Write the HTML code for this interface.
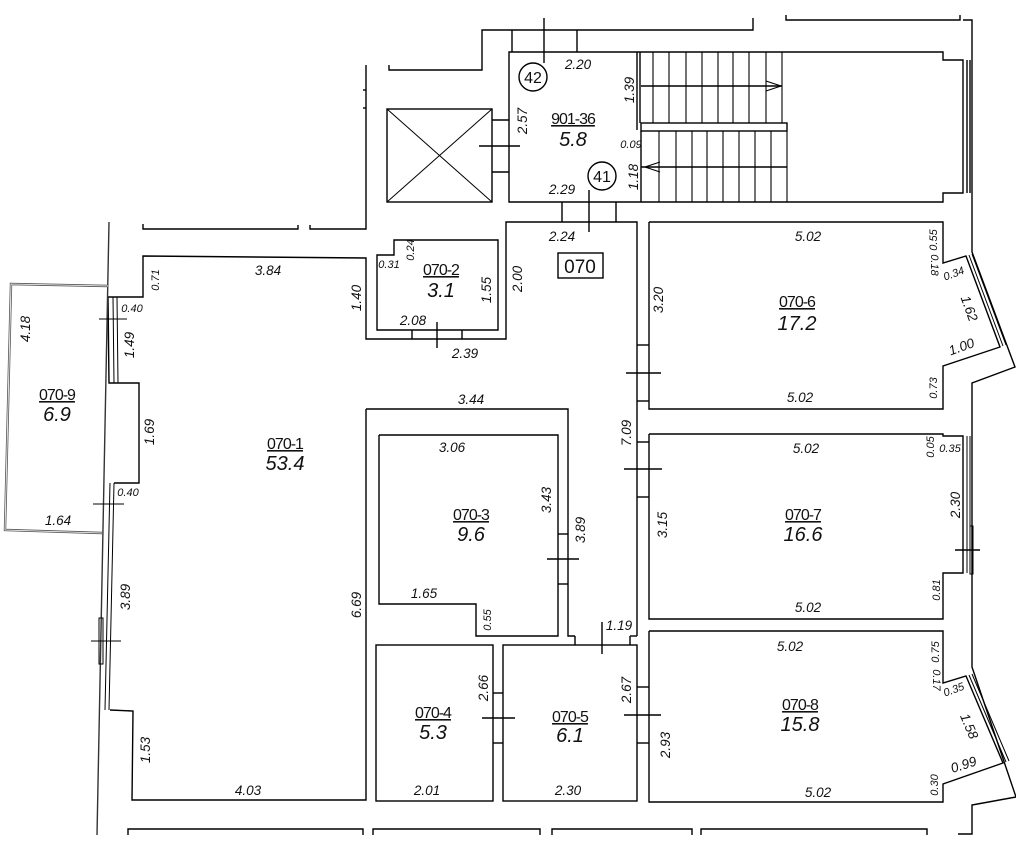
<!DOCTYPE html>
<html><head><meta charset="utf-8"><style>
html,body{margin:0;padding:0;background:#fff;}
svg{display:block}
text{font-family:"Liberation Sans",sans-serif;fill:#111}
.d{font-size:13.5px;font-style:italic}
.s{font-size:11px;font-style:italic}
.c{font-size:16px;letter-spacing:-1px}
.a{font-size:20px;font-style:italic}
</style></head><body>
<svg width="1016" height="843" viewBox="0 0 1016 843" xmlns="http://www.w3.org/2000/svg">
<g fill="none" stroke="#000" stroke-width="1.4">
<polyline points="389,65 389,70 482,70 482,30 753,30 753,18"/>
<line x1="512" y1="30" x2="512" y2="52"/><line x1="577" y1="30" x2="577" y2="52"/>
<line x1="544" y1="18" x2="544" y2="63"/>
<polyline points="786,15 786,20 960,20 960,15"/>
<polyline points="963,20 972,20 972,252 1015,367 972,383 972,667 1016,797 972,805 972,834 958,834"/>
<polyline points="637,52 509,52 509,202 943,202 943,193 963,193 963,60 943,60 943,52 637,52"/>
<line x1="967" y1="60" x2="967" y2="193"/><line x1="970" y1="60" x2="970" y2="193"/>
<line x1="637" y1="52" x2="637" y2="130"/><line x1="640" y1="52" x2="640" y2="123"/>
<rect x="641" y="123" width="146" height="8"/>
<line x1="641" y1="131" x2="641" y2="202"/>
<line x1="641" y1="86" x2="782" y2="86"/><line x1="641" y1="167" x2="787" y2="167"/>
<g stroke-width="1.1">
<line x1="653" y1="52" x2="653" y2="123"/><line x1="669" y1="52" x2="669" y2="123"/><line x1="686" y1="52" x2="686" y2="123"/><line x1="702" y1="52" x2="702" y2="123"/><line x1="718" y1="52" x2="718" y2="123"/><line x1="733" y1="52" x2="733" y2="123"/><line x1="749" y1="52" x2="749" y2="123"/><line x1="766" y1="52" x2="766" y2="123"/><line x1="782" y1="52" x2="782" y2="123"/>
<line x1="659" y1="131" x2="659" y2="202"/><line x1="676" y1="131" x2="676" y2="202"/><line x1="692" y1="131" x2="692" y2="202"/><line x1="707" y1="131" x2="707" y2="202"/><line x1="723" y1="131" x2="723" y2="202"/><line x1="739" y1="131" x2="739" y2="202"/><line x1="755" y1="131" x2="755" y2="202"/><line x1="771" y1="131" x2="771" y2="202"/><line x1="787" y1="131" x2="787" y2="202"/>
<polyline points="766,81 781,86 766,91"/><polyline points="660,162 645,167 660,172"/>
</g>
<circle cx="533" cy="77" r="14"/><circle cx="602" cy="176" r="14"/>
<line x1="589" y1="190" x2="589" y2="232"/>
<line x1="562" y1="202" x2="562" y2="222"/><line x1="616" y1="202" x2="616" y2="222"/>
<rect x="387" y="109" width="105" height="93"/>
<line x1="387" y1="109" x2="492" y2="202" stroke-width="1"/><line x1="492" y1="109" x2="387" y2="202" stroke-width="1"/>
<line x1="492" y1="120" x2="509" y2="120"/><line x1="492" y1="172" x2="509" y2="172"/>
<line x1="479" y1="146" x2="520" y2="146"/>
<polyline points="366,65 366,229 310,229 310,225"/>
<polyline points="143,224 143,229 298,229 298,225"/>
<line x1="366" y1="90" x2="363" y2="90"/><line x1="366" y1="108" x2="363" y2="108"/>
<polyline points="108,297 143,297 143,256 366,258 366,339 506,339 506,222 637,222 637,636"/>
<polyline points="366,409 568,409 568,636 575,636"/>
<line x1="630" y1="636" x2="637" y2="636"/>
<line x1="575" y1="636" x2="575" y2="645"/><line x1="630" y1="636" x2="630" y2="645"/>
<line x1="602" y1="622" x2="602" y2="654"/>
<polyline points="366,409 366,800 132,800 133,711 110,710"/>
<polyline points="108,297 109,383 139,383 139,483 114,483"/>
<polyline points="109,222 97,835" stroke="#333"/>
<line x1="113" y1="297" x2="114" y2="383" stroke-width="1"/><line x1="117" y1="297" x2="118" y2="383" stroke-width="1"/>
<line x1="110" y1="483" x2="105" y2="710" stroke-width="1"/><line x1="114" y1="483" x2="109" y2="710" stroke-width="1"/>
<rect x="99" y="618" width="4" height="46" stroke-width="1"/>
<line x1="99" y1="319" x2="127" y2="319" stroke-width="1"/><line x1="93" y1="504" x2="124" y2="504" stroke-width="1"/><line x1="91" y1="641" x2="121" y2="641" stroke-width="1"/>
<polyline points="108,286 11,284 5,530 102,533" stroke="#555" stroke-width="2.4"/>
<polyline points="108,286 11,284 5,530 102,533" stroke="#fff" stroke-width="0.8"/>
<polygon points="377,255 394,255 394,240 498,240 498,330 377,330"/>
<line x1="412" y1="330" x2="412" y2="339"/><line x1="462" y1="330" x2="462" y2="339"/>
<line x1="437" y1="322" x2="437" y2="348"/>
<rect x="558" y="253" width="45" height="25"/>
<polyline points="379,435 558,435 558,636 476,636 476,604 379,604 379,435"/>
<line x1="558" y1="534" x2="568" y2="534"/><line x1="558" y1="584" x2="568" y2="584"/>
<line x1="547" y1="559" x2="579" y2="559"/>
<rect x="376" y="645" width="117" height="156"/>
<rect x="503" y="645" width="134" height="156"/>
<line x1="493" y1="693" x2="503" y2="693"/><line x1="493" y1="743" x2="503" y2="743"/>
<line x1="482" y1="718" x2="515" y2="718"/>
<polyline points="649,222 943,222 943,263 966,256 1000,347 943,366 943,409 649,409 649,222"/>
<line x1="969" y1="255" x2="1003" y2="346" stroke-width="1"/><line x1="972" y1="254" x2="1006" y2="345" stroke-width="1"/>
<line x1="637" y1="345" x2="649" y2="345"/><line x1="637" y1="401" x2="649" y2="401"/>
<line x1="626" y1="373" x2="661" y2="373"/>
<polyline points="649,434 943,434 943,436 963,436 963,573 943,573 943,619 649,619 649,434"/>
<line x1="967" y1="436" x2="967" y2="573" stroke-width="1"/><line x1="970" y1="436" x2="970" y2="573" stroke-width="1"/>
<rect x="970" y="526" width="3" height="48" stroke-width="1"/>
<line x1="955" y1="550" x2="980" y2="550"/>
<line x1="637" y1="442" x2="649" y2="442"/><line x1="637" y1="497" x2="649" y2="497"/>
<line x1="624" y1="469" x2="662" y2="469"/>
<polyline points="649,631 943,631 943,683 966,676 1003,763 943,784 943,802 649,802 649,631"/>
<line x1="969" y1="675" x2="1006" y2="762" stroke-width="1"/><line x1="972" y1="674" x2="1009" y2="761" stroke-width="1"/>
<line x1="637" y1="687" x2="649" y2="687"/><line x1="637" y1="743" x2="649" y2="743"/>
<line x1="624" y1="715" x2="661" y2="715"/>
<polyline points="128,835 128,829 363,829 363,835"/>
<polyline points="373,835 373,829 540,829 540,835"/>
<polyline points="552,835 552,829 692,829 692,835"/>
<polyline points="701,835 701,829 927,829 927,835"/>
</g>
<g>
<text class="d" x="578" y="69" text-anchor="middle">2.20</text>
<text x="533" y="83" font-size="16" text-anchor="middle">42</text>
<text x="602" y="182" font-size="16" text-anchor="middle">41</text>
<text class="d" transform="translate(527,121) rotate(-90)" text-anchor="middle">2.57</text>
<text class="c" x="573" y="124" text-anchor="middle" text-decoration="underline">901-36</text>
<text class="a" x="573" y="146" text-anchor="middle">5.8</text>
<text class="d" transform="translate(634,90) rotate(-90)" text-anchor="middle">1.39</text>
<text class="s" x="631" y="148" text-anchor="middle">0.09</text>
<text class="d" transform="translate(638,177) rotate(-90)" text-anchor="middle">1.18</text>
<text class="d" x="562" y="194" text-anchor="middle">2.29</text>
<text class="d" x="562" y="241" text-anchor="middle">2.24</text>
<text x="580" y="273" font-size="19" text-anchor="middle">070</text>
<text class="d" transform="translate(522,279) rotate(-90)" text-anchor="middle">2.00</text>

<text class="d" x="808" y="241" text-anchor="middle">5.02</text>
<text class="s" transform="translate(937,240) rotate(-90)" text-anchor="middle">0.55</text>
<text class="s" transform="translate(931,265) rotate(90)" text-anchor="middle">0.18</text>
<text class="s" transform="translate(955,277) rotate(-20)" text-anchor="middle">0.34</text>
<text class="d" transform="translate(965,310) rotate(70)" text-anchor="middle">1.62</text>
<text class="d" transform="translate(963,351) rotate(-20)" text-anchor="middle">1.00</text>
<text class="s" transform="translate(937,388) rotate(-90)" text-anchor="middle">0.73</text>
<text class="d" x="800" y="402" text-anchor="middle">5.02</text>
<text class="c" x="797" y="307" text-anchor="middle" text-decoration="underline">070-6</text>
<text class="a" x="797" y="330" text-anchor="middle">17.2</text>
<text class="d" transform="translate(663,300) rotate(-90)" text-anchor="middle">3.20</text>

<text class="d" x="268" y="275" text-anchor="middle">3.84</text>
<text class="s" transform="translate(159,280) rotate(-90)" text-anchor="middle">0.71</text>
<text class="d" transform="translate(361,298) rotate(-90)" text-anchor="middle">1.40</text>
<text class="s" x="389" y="268" text-anchor="middle">0.31</text>
<text class="s" transform="translate(414,250) rotate(-90)" text-anchor="middle">0.24</text>
<text class="c" x="441" y="275" text-anchor="middle" text-decoration="underline">070-2</text>
<text class="a" x="441" y="297" text-anchor="middle">3.1</text>
<text class="d" transform="translate(491,290) rotate(-90)" text-anchor="middle">1.55</text>
<text class="d" x="413" y="325" text-anchor="middle">2.08</text>
<text class="d" x="465" y="358" text-anchor="middle">2.39</text>

<text class="d" transform="translate(30,329) rotate(-90)" text-anchor="middle">4.18</text>
<text class="s" x="132" y="312" text-anchor="middle">0.40</text>
<text class="d" transform="translate(134,345) rotate(-90)" text-anchor="middle">1.49</text>
<text class="c" x="57" y="400" text-anchor="middle" text-decoration="underline">070-9</text>
<text class="a" x="57" y="421" text-anchor="middle">6.9</text>
<text class="d" transform="translate(154,432) rotate(-90)" text-anchor="middle">1.69</text>
<text class="s" x="128" y="496" text-anchor="middle">0.40</text>
<text class="d" x="58" y="525" text-anchor="middle">1.64</text>
<text class="d" transform="translate(130,597) rotate(-90)" text-anchor="middle">3.89</text>
<text class="c" x="285" y="449" text-anchor="middle" text-decoration="underline">070-1</text>
<text class="a" x="285" y="470" text-anchor="middle">53.4</text>
<text class="d" transform="translate(361,605) rotate(-90)" text-anchor="middle">6.69</text>
<text class="d" transform="translate(150,750) rotate(-90)" text-anchor="middle">1.53</text>
<text class="d" x="248" y="795" text-anchor="middle">4.03</text>

<text class="d" x="471" y="404" text-anchor="middle">3.44</text>
<text class="d" x="452" y="452" text-anchor="middle">3.06</text>
<text class="c" x="471" y="520" text-anchor="middle" text-decoration="underline">070-3</text>
<text class="a" x="471" y="541" text-anchor="middle">9.6</text>
<text class="d" transform="translate(551,500) rotate(-90)" text-anchor="middle">3.43</text>
<text class="d" transform="translate(585,530) rotate(-90)" text-anchor="middle">3.89</text>
<text class="d" x="424" y="598" text-anchor="middle">1.65</text>
<text class="s" transform="translate(491,620) rotate(-90)" text-anchor="middle">0.55</text>
<text class="d" transform="translate(631,433) rotate(-90)" text-anchor="middle">7.09</text>
<text class="d" transform="translate(667,525) rotate(-90)" text-anchor="middle">3.15</text>
<text class="d" x="619" y="630" text-anchor="middle">1.19</text>

<text class="c" x="803" y="520" text-anchor="middle" text-decoration="underline">070-7</text>
<text class="a" x="803" y="541" text-anchor="middle">16.6</text>
<text class="d" x="806" y="453" text-anchor="middle">5.02</text>
<text class="s" transform="translate(934,447) rotate(-90)" text-anchor="middle">0.05</text>
<text class="s" x="950" y="452" text-anchor="middle">0.35</text>
<text class="d" transform="translate(960,505) rotate(-90)" text-anchor="middle">2.30</text>
<text class="s" transform="translate(940,590) rotate(-90)" text-anchor="middle">0.81</text>
<text class="d" x="808" y="612" text-anchor="middle">5.02</text>

<text class="d" x="790" y="651" text-anchor="middle">5.02</text>
<text class="s" transform="translate(939,652) rotate(-90)" text-anchor="middle">0.75</text>
<text class="s" transform="translate(933,680) rotate(90)" text-anchor="middle">0.17</text>
<text class="s" transform="translate(955,693) rotate(-20)" text-anchor="middle">0.35</text>
<text class="d" transform="translate(965,728) rotate(67)" text-anchor="middle">1.58</text>
<text class="d" transform="translate(965,769) rotate(-18)" text-anchor="middle">0.99</text>
<text class="s" transform="translate(938,785) rotate(-90)" text-anchor="middle">0.30</text>
<text class="d" x="818" y="797" text-anchor="middle">5.02</text>
<text class="c" x="800" y="710" text-anchor="middle" text-decoration="underline">070-8</text>
<text class="a" x="800" y="731" text-anchor="middle">15.8</text>
<text class="d" transform="translate(631,690) rotate(-90)" text-anchor="middle">2.67</text>
<text class="d" transform="translate(670,745) rotate(-90)" text-anchor="middle">2.93</text>

<text class="c" x="433" y="718" text-anchor="middle" text-decoration="underline">070-4</text>
<text class="a" x="433" y="739" text-anchor="middle">5.3</text>
<text class="d" transform="translate(488,688) rotate(-90)" text-anchor="middle">2.66</text>
<text class="d" x="427" y="795" text-anchor="middle">2.01</text>
<text class="c" x="570" y="722" text-anchor="middle" text-decoration="underline">070-5</text>
<text class="a" x="570" y="742" text-anchor="middle">6.1</text>
<text class="d" x="568" y="795" text-anchor="middle">2.30</text>
</g>
</svg>
</body></html>
